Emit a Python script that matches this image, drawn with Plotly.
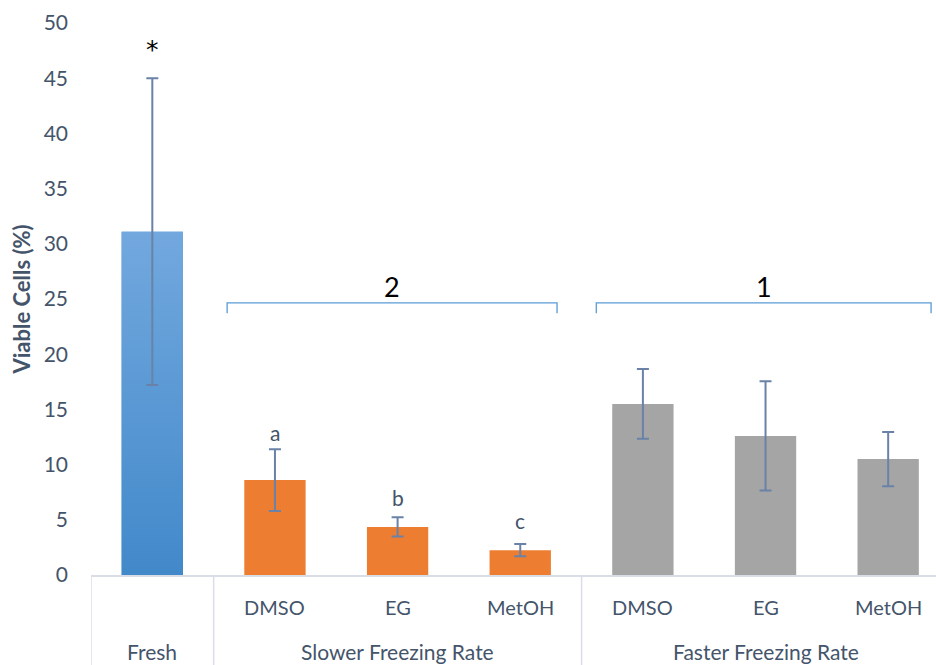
import plotly.graph_objects as go

# Data
groups = ["Fresh", "Slower Freezing Rate", "Slower Freezing Rate", "Slower Freezing Rate",
          "Faster Freezing Rate", "Faster Freezing Rate", "Faster Freezing Rate"]
treatments = ["", "DMSO", "EG", "MetOH", "DMSO", "EG", "MetOH"]
viable = [31.1, 8.6, 4.35, 2.25, 15.5, 12.6, 10.5]
errors = [13.9, 2.8, 0.87, 0.55, 3.15, 4.95, 2.45]
sig_letters = ["*", "a", "b", "c", "", "", ""]
group_marks = ["2", "1"]

y_ticks = [0, 5, 10, 15, 20, 25, 30, 35, 40, 45, 50]

ORANGE = "#ED7D31"
GRAY = "#A5A5A5"
BLUE_TOP = "#72A8DE"
BLUE_BOTTOM = "#4289CA"
ERR = "#6A82A7"
TEXT = "#44546A"
AXIS = "#D9DEE6"
FONT = "Lato"

x = list(range(len(viable)))
bar_w = 0.5

fig = go.Figure()

bar_colors = [BLUE_BOTTOM] + [ORANGE] * 3 + [GRAY] * 3
fig.add_trace(go.Bar(x=x, y=viable, width=bar_w, marker=dict(color=bar_colors, line=dict(width=0)),
                     showlegend=False, hoverinfo="skip"))

# Gradient fill for the fresh-sample bar
x0, v0 = x[0], viable[0]
fig.add_trace(go.Scatter(
    x=[x0 - bar_w / 2, x0 + bar_w / 2, x0 + bar_w / 2, x0 - bar_w / 2, x0 - bar_w / 2],
    y=[0, 0, v0, v0, 0], mode="lines", line=dict(width=0), fill="toself",
    fillgradient=dict(type="vertical", colorscale=[[0, BLUE_BOTTOM], [1, BLUE_TOP]]),
    showlegend=False, hoverinfo="skip"))

# Error bars on top of everything
fig.add_trace(go.Scatter(
    x=x, y=viable, mode="markers", marker=dict(size=1, opacity=0),
    error_y=dict(type="data", array=errors, visible=True, color=ERR, thickness=2, width=6),
    showlegend=False, hoverinfo="skip"))

# Significance letters above the error bars
letter_shift = [0, 2, 5, 9, 0, 0, 0]
for i, lab in enumerate(sig_letters):
    if not lab:
        continue
    is_star = lab == "*"
    fig.add_annotation(x=x[i], y=viable[i] + errors[i], text=lab, showarrow=False,
                       xref="x", yref="y", yanchor="bottom",
                       yshift=12 if is_star else letter_shift[i],
                       font=dict(family="DejaVu Sans" if is_star else FONT,
                                 size=25 if is_star else 21,
                                 color="black" if is_star else TEXT))

# Brackets over the two freezing-rate groups
brackets = [(0.61, 3.30), (3.62, 6.35)]
for (xa, xb), mark in zip(brackets, group_marks):
    fig.add_shape(type="path", xref="x", yref="y",
                  path=f"M {xa},23.7 L {xa},24.65 L {xb},24.65 L {xb},23.7",
                  line=dict(color="#5B9BD5", width=1.3))
    fig.add_annotation(x=(xa + xb) / 2, y=26.1, text=mark, showarrow=False,
                       xref="x", yref="y", yanchor="middle",
                       font=dict(family=FONT, size=27, color="black"))

# Two-level category labels
for i, t in enumerate(treatments):
    if t:
        fig.add_annotation(x=x[i], y=-0.0574, text=t, showarrow=False, xref="x", yref="paper",
                           yanchor="middle", font=dict(family=FONT, size=20, color=TEXT))
seen = []
for g in groups:
    if g in seen:
        continue
    seen.append(g)
    idx = [i for i, gg in enumerate(groups) if gg == g]
    fig.add_annotation(x=sum(idx) / len(idx), y=-0.1377, text=g, showarrow=False,
                       xref="x", yref="paper", yanchor="middle",
                       font=dict(family=FONT, size=21, color=TEXT))

# Group divider lines
for i in range(len(groups) + 1):
    if i == 0 or i == len(groups) or groups[i] != groups[i - 1]:
        fig.add_shape(type="line", xref="x", yref="paper", x0=i - 0.5, x1=i - 0.5,
                      y0=0, y1=-0.2, line=dict(color=AXIS, width=1.5))

fig.update_layout(
    width=936, height=665,
    margin=dict(l=91, r=0, t=23, b=90),
    paper_bgcolor="white", plot_bgcolor="white",
    font=dict(family=FONT, color=TEXT),
    bargap=0.5,
    xaxis=dict(range=[-0.5, 6.39], showticklabels=False, ticks="", showgrid=False,
               zeroline=False, showline=True, linecolor=AXIS, linewidth=1.5),
    yaxis=dict(range=[0, 50], tickvals=y_ticks, showgrid=False, zeroline=False,
               showline=False, ticks="", ticklabelstandoff=22,
               tickfont=dict(family=FONT, size=21, color=TEXT),
               title=dict(text="<b>Viable Cells (%)</b>", standoff=6,
                          font=dict(family=FONT, size=22, color=TEXT))),
)

fig.write_html("out.html")
